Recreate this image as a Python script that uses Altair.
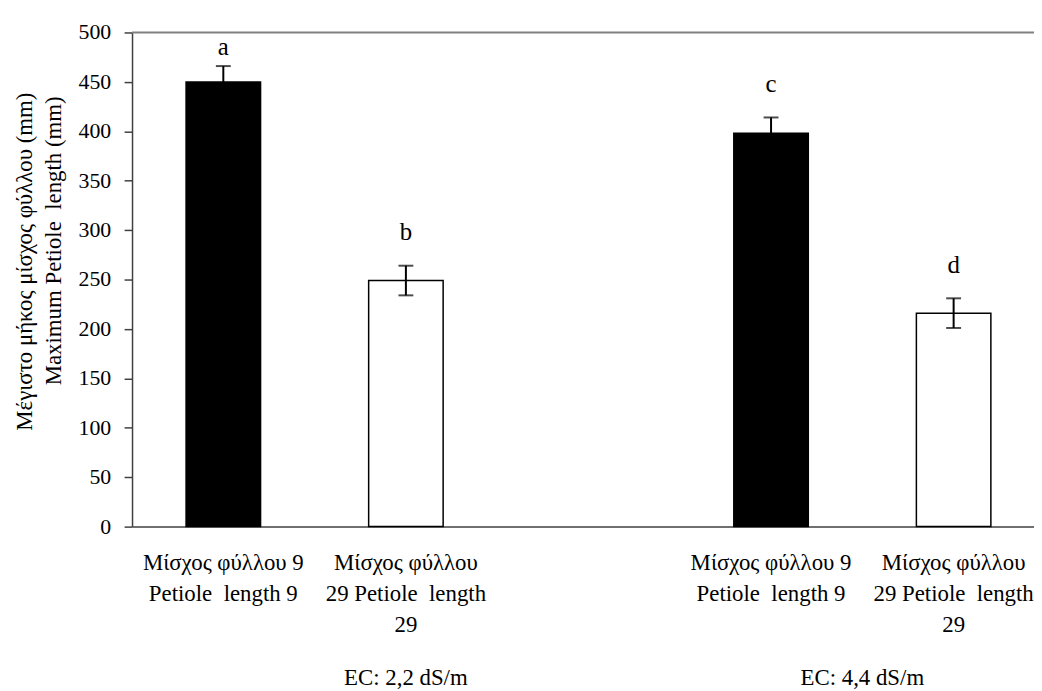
import altair as alt
import pandas as pd

# ---- data ----
ec_labels = ["EC: 2,2 dS/m", "EC: 2,2 dS/m", "EC: 4,4 dS/m", "EC: 4,4 dS/m"]
petiole = ["9", "29", "9", "29"]
mean_mm = [450, 249, 398, 216]
se_mm = [16, 15, 16, 15]
letters = ["a", "b", "c", "d"]
group_names = ["EC: 2,2 dS/m", "EC: 4,4 dS/m"]
label_lines = {
    "9": ["Μίσχος φύλλου 9", "Petiole\u00a0 length 9"],
    "29": ["Μίσχος φύλλου", "29 Petiole\u00a0 length", "29"],
}
y_title = ["Μέγιστο μήκος μίσχος φύλλου (mm)", "Maximum Petiole\u00a0 length (mm)"]
y_ticks = list(range(0, 501, 50))

keys = [f"{p}@{e}" for p, e in zip(petiole, ec_labels)]
domain = keys[:2] + ["gap"] + keys[2:]

df = pd.DataFrame({"key": keys, "petiole": petiole, "mean": mean_mm,
                   "se": se_mm, "letter": letters})
lab_df = pd.DataFrame({"key": keys, "lines": [label_lines[p] for p in petiole]})
tick_df = pd.DataFrame({"v": y_ticks, "t": [str(v) for v in y_ticks]})

FONT = "Liberation Serif"
AX = "#404040"

x_scale = alt.Scale(domain=domain, range=[0, 920], paddingInner=0.592, paddingOuter=0.296)
x_axis = alt.Axis(title=None, labels=False, ticks=False, tickSize=0,
                  domainColor=AX, domainWidth=1.5)
y_scale = alt.Scale(domain=[0, 500], nice=False, zero=True)
y_axis = alt.Axis(values=y_ticks, title=None, labels=False, grid=False, tickSize=8,
                  tickColor=AX, tickWidth=1.5, domainColor=AX, domainWidth=1.5)

X = alt.X("key:N", scale=x_scale, axis=x_axis)

base = alt.Chart(df).transform_calculate(
    lower="datum.mean - datum.se",
    upper="datum.mean + datum.se",
    ly="min(datum.mean + datum.se + 34, 485)",
)

bars = base.mark_bar(stroke="black", strokeWidth=1.5).encode(
    x=X,
    y=alt.Y("mean:Q", scale=y_scale, axis=y_axis),
    fill=alt.Fill("petiole:N", scale=alt.Scale(domain=["9", "29"], range=["black", "white"]),
                  legend=None),
)

err = base.mark_rule(color="black", strokeWidth=2).encode(
    x=X,
    y=alt.Y("lower:Q", scale=y_scale, axis=y_axis),
    y2="upper:Q",
)
cap_hi = base.mark_tick(color="black", size=15, thickness=2).encode(
    x=X, y=alt.Y("upper:Q", scale=y_scale, axis=y_axis))
cap_lo = base.mark_tick(color="black", size=15, thickness=2).encode(
    x=X, y=alt.Y("lower:Q", scale=y_scale, axis=y_axis))

lett = base.mark_text(font=FONT, fontSize=25, color="black", baseline="middle").encode(
    x=X, y=alt.Y("ly:Q", scale=y_scale, axis=y_axis), text="letter:N")

top_line = alt.Chart(pd.DataFrame({"v": [y_ticks[-1]]})).mark_rule(
    color="#808080", strokeWidth=2).encode(
    y=alt.Y("v:Q", scale=y_scale, axis=y_axis), x=alt.value(0), x2=alt.value(909))

# y tick labels
ytl = alt.Chart(tick_df).mark_text(
    font=FONT, fontSize=22, color="black", align="right", baseline="middle", dx=-21).encode(
    y=alt.Y("v:Q", scale=y_scale, axis=y_axis), x=alt.value(0), text="t:N")

# category labels (multi-line)
xl = alt.Chart(lab_df).mark_text(
    font=FONT, fontSize=23, color="black", align="center", baseline="top",
    lineHeight=31).encode(
    x=X, y=alt.value(524), text="lines:N")

# y-axis title (two lines)
yt1 = alt.Chart(pd.DataFrame({"i": [0]})).mark_text(
    font=FONT, fontSize=23, color="black", align="center", baseline="middle",
    angle=270).encode(
    x=alt.value(-108), y=alt.value(231), text=alt.value(y_title[0]))
yt2 = alt.Chart(pd.DataFrame({"i": [0]})).mark_text(
    font=FONT, fontSize=23, color="black", align="center", baseline="middle",
    angle=270).encode(
    x=alt.value(-79), y=alt.value(210), text=alt.value(y_title[1]))

g1 = alt.Chart(pd.DataFrame({"key": [keys[1]], "g": [group_names[0]]})).mark_text(
    font=FONT, fontSize=23, color="black", baseline="alphabetic", align="center").encode(
    x=X, y=alt.value(658), text="g:N")
g2 = alt.Chart(pd.DataFrame({"key": [keys[3]], "g": [group_names[1]]})).mark_text(
    font=FONT, fontSize=23, color="black", baseline="alphabetic", align="center", dx=-92).encode(
    x=X, y=alt.value(658), text="g:N")

chart = alt.layer(top_line, bars, err, cap_hi, cap_lo, lett, ytl, xl, yt1, yt2, g1, g2).properties(
    width=909, height=498,
    autosize=alt.AutoSizeParams(type="none"),
    padding={"left": 125, "top": 22, "right": 0, "bottom": 163},
).configure(
    font=FONT, background="white",
    view=alt.ViewConfig(stroke=None),
)

chart.save("out.html", embed_options={"renderer": "svg", "actions": False})
